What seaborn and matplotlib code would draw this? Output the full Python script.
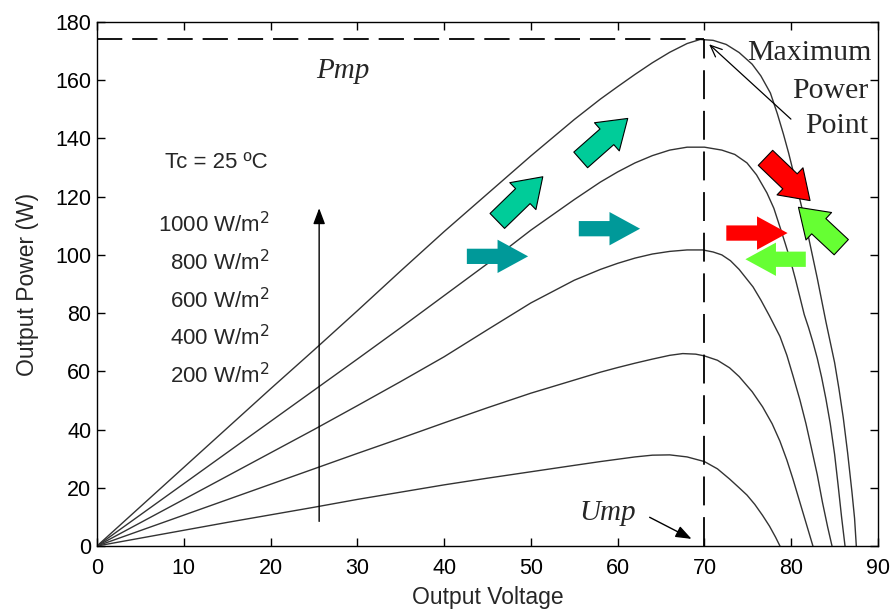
import numpy as np
import pandas as pd
import matplotlib
matplotlib.use("Agg")
import matplotlib.pyplot as plt
import seaborn as sns
from matplotlib.patches import FancyArrowPatch

# ---- data ----
labels = ["1000 W/m$^2$", "800 W/m$^2$", "600 W/m$^2$", "400 W/m$^2$", "200 W/m$^2$"]

v_1000 = [0, 5, 10, 15, 20, 25, 30, 35, 40, 45, 50, 55, 58, 60, 62, 64, 66, 68, 69.5,
          71, 72.5, 74, 75.5, 76.5, 77.6, 78.4, 79.1, 79.7, 80.2, 80.8, 81.4, 82, 82.5,
          83, 83.5, 84, 84.5, 85, 85.5, 86, 86.5, 87, 87.3, 87.5]
p_1000 = [0, 13.5, 27, 40.5, 54, 67.3, 80.8, 94.5, 108, 121, 134, 146.5, 153.5, 157.8, 162,
          166, 169.6, 172.6, 174, 173.7, 172.3, 169.5, 165.5, 161.5, 155.6, 148.5, 141.5,
          135, 129, 121.5, 114, 106, 99, 92, 84.5, 77, 70, 63, 54, 44, 32, 18.5, 9.5, 0]

v_800 = [0, 5, 10, 15, 20, 25, 30, 35, 40, 45, 50, 55, 58, 60, 62, 64, 66, 68, 70,
         72, 73.5, 74.9, 76, 77.2, 78, 78.7, 79.3, 79.9, 80.5, 81, 81.5, 82, 82.5, 83,
         83.5, 84, 84.5, 85, 85.4, 85.8, 86.2]
p_800 = [0, 10.7, 21.4, 32.1, 42.8, 53.5, 64.2, 75, 86, 97, 108.5, 119, 125, 128.5,
         131.6, 134.1, 136, 137, 137, 136, 134.5, 131.6, 127.5, 121.3, 116, 109.6, 104, 98.2,
         91.5, 85.5, 79.5, 75, 70, 64.5, 58, 50.5, 42, 31.5, 21, 10, 0]

v_600 = [0, 5, 10, 15, 20, 25, 30, 35, 40, 45, 50, 55, 58, 60, 62, 64, 66, 68, 69.8,
         71, 72, 73, 74, 75.6, 76.5, 77.5, 78.7, 79.5, 80.2, 81, 81.7, 82.3, 83, 83.6,
         84.2, 84.7]
p_600 = [0, 8, 16, 24, 32, 40, 48.2, 56.5, 65, 74.3, 83.5, 91.3, 95, 97.1, 98.9, 100.3,
         101.2, 101.7, 101.7, 101, 100, 98, 95, 89, 84.5, 79, 72, 65.5, 58.5, 50.2, 42,
         34, 24.5, 15, 6.5, 0]

v_400 = [0, 5, 10, 15, 20, 25, 30, 35, 40, 45, 50, 55, 58, 60, 62, 64, 66, 67.5, 69,
         70, 71.5, 72.9, 74, 75.5, 76.7, 77.8, 78.7, 79.5, 80.2, 80.8, 81.4, 82, 82.5]
p_400 = [0, 5.3, 10.6, 15.9, 21.2, 26.5, 31.8, 37, 42.3, 47.5, 52.5, 57, 59.7, 61.3,
         62.8, 64.2, 65.5, 66.1, 65.9, 65.3, 63.8, 61.2, 58.2, 53, 47.8, 42, 36, 29.5,
         23, 17, 11, 5, 0]

v_200 = [0, 5, 10, 15, 20, 25, 30, 35, 40, 45, 50, 55, 58, 60, 62, 64, 66, 68, 70,
         71.5, 72.9, 74, 74.9, 75.8, 76.7, 77.5, 78.2, 78.7]
p_200 = [0, 2.7, 5.4, 8.1, 10.7, 13.3, 16, 18.5, 21, 23.3, 25.5, 27.7, 29, 29.8, 30.6,
         31.2, 31.3, 30.6, 29, 26.5, 23, 20, 17.5, 14.3, 10.5, 6.8, 3, 0]

x_ticks = [0, 10, 20, 30, 40, 50, 60, 70, 80, 90]
y_ticks = [0, 20, 40, 60, 80, 100, 120, 140, 160, 180]

pmp_value = 174
ump_value = 70

# ---- build long table ----
frames = []
for lab, v, p in zip(labels, [v_1000, v_800, v_600, v_400, v_200],
                     [p_1000, p_800, p_600, p_400, p_200]):
    frames.append(pd.DataFrame({"V": v, "P": p, "G": lab}))
df = pd.concat(frames, ignore_index=True)

sns.set_theme(style="ticks")
plt.rcParams['font.family'] = ['Liberation Sans', 'DejaVu Sans']

fig = plt.figure(figsize=(8.93, 6.15), dpi=100)
ax = fig.add_axes([97/893, 69/615, 781/893, 524/615])

sns.lineplot(data=df, x="V", y="P", hue="G", palette=["#333333"]*5,
             legend=False, ax=ax, linewidth=1.0, sort=False, estimator=None)

ax.set_xlim(0, 90)
ax.set_ylim(0, 180)
ax.set_xticks(x_ticks)
ax.set_yticks(y_ticks)
ax.tick_params(direction="in", top=True, right=True, length=6, width=1,
               labelsize=15.5, colors="black")
ax.tick_params(axis="x", pad=9)
ax.tick_params(axis="y", pad=4)
for s in ax.spines.values():
    s.set_linewidth(1.0)
    s.set_color("black")
ax.set_xlabel("Output Voltage", fontsize=16.5, labelpad=5)
ax.set_ylabel("Output Power (W)", fontsize=16.5, labelpad=12)

# dashed MPP lines
ax.plot([0, ump_value], [pmp_value, pmp_value], color="black", lw=1.3,
        dashes=(14, 5.5))
ax.plot([ump_value, ump_value], [0, pmp_value], color="black", lw=1.3,
        dashes=(16, 6.5))

serif = ['Liberation Serif', 'DejaVu Serif']
ax.text(28.3, 163.2, "Pmp", fontsize=21, style="italic", family=serif,
        ha="center", va="center")
ax.text(58.8, 11.2, "Ump", fontsize=21, style="italic", family=serif,
        ha="center", va="center")
ax.annotate("", xy=(68.8, 2.0), xytext=(63.4, 10.3),
            arrowprops=dict(arrowstyle="-|>,head_length=0.8,head_width=0.3",
                            color="black", lw=1.0))
ax.text(89.2, 166.8, "Maximum", fontsize=21.5, family=serif, ha="right", va="baseline")
ax.text(88.9, 154.0, "Power", fontsize=21.5, family=serif, ha="right", va="baseline")
ax.text(88.9, 142.0, "Point", fontsize=21.5, family=serif, ha="right", va="baseline")
ax.annotate("", xy=(70.3, 173), xytext=(80.2, 146),
            arrowprops=dict(arrowstyle="->,head_length=0.7,head_width=0.3",
                            color="black", lw=0.9))

ax.text(13.7, 129.9, "Tc = 25 ºC", fontsize=16, ha="center", va="baseline")
ys = [107.9, 94.8, 81.8, 69.0, 56.0]
for lab, yy in zip(labels, ys):
    ax.text(19.9, yy, lab, fontsize=16, ha="right", va="baseline")

ax.annotate("", xy=(25.6, 117), xytext=(25.6, 7.5),
            arrowprops=dict(arrowstyle="-|>,head_length=0.8,head_width=0.3",
                            color="black", lw=1.0))

def block(p0, p1, color, edge=None, tw=0.55, hw=1.2, hl=1.1):
    kw = dict(arrowstyle=f"simple,head_length={hl},head_width={hw},tail_width={tw}",
              mutation_scale=20, facecolor=color, zorder=5)
    if edge:
        kw.update(edgecolor=edge, lw=0.8)
    else:
        kw.update(edgecolor="none", lw=0)
    ax.add_patch(FancyArrowPatch(p0, p1, **kw))

teal = "#009999"
green = "#00CC99"
red = "#FF0000"
lgreen = "#66FF33"

block((42.3, 99.5), (50.0, 99.5), teal)
block((55.2, 109), (62.9, 109), teal)
block((45.9, 111), (51.6, 127.5), green, edge="black", tw=0.75, hw=1.35, hl=1.0)
block((55.5, 132), (61.4, 147.5), green, edge="black", tw=0.75, hw=1.35, hl=1.0)
block((72.2, 107.5), (79.9, 107.5), red)
block((82.0, 98.5), (74.4, 98.5), lgreen)
block((76.8, 134), (82.4, 118), red, edge="black", tw=0.75, hw=1.35, hl=1.0)
block((86.0, 102), (80.6, 117), lgreen, edge="black", tw=0.75, hw=1.35, hl=1.0)

fig.savefig("out.png", dpi=100)
